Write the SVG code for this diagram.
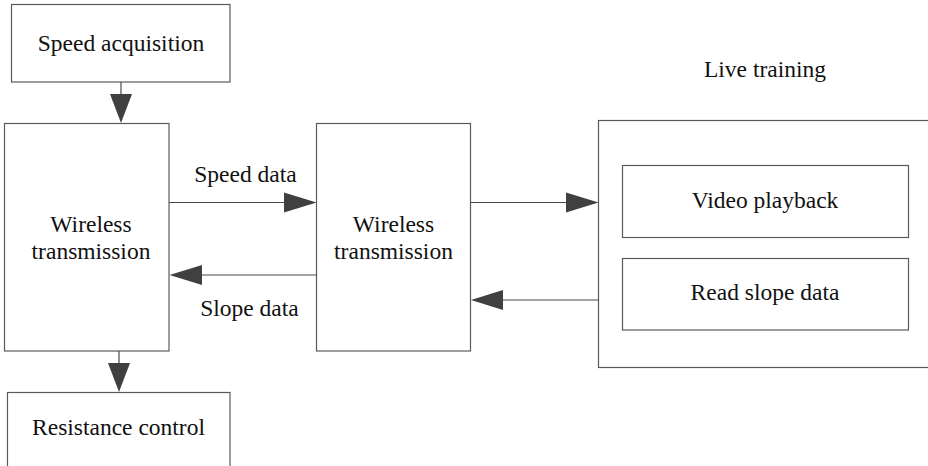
<svg xmlns="http://www.w3.org/2000/svg" width="928" height="466" viewBox="0 0 928 466">
  <style>
    .box { fill: #ffffff; stroke: #5a5a5a; stroke-width: 1.2; }
    .wire { fill: none; stroke: #4a4a4a; stroke-width: 1.2; }
    .head { fill: #404040; stroke: none; }
    text { font-family: "Liberation Serif", "Times New Roman", serif; font-size: 23.5px; fill: #111111; text-anchor: middle; }
  </style>
  <rect width="928" height="466" fill="#ffffff"/>

  <g id="speed-acquisition">
    <rect class="box" x="11.5" y="4.5" width="218.5" height="77.5"/>
    <text x="121" y="51">Speed acquisition</text>
  </g>

  <g id="wireless-left">
    <rect class="box" x="4.5" y="123.5" width="164.5" height="227.5"/>
    <text x="91" y="232">Wireless</text>
    <text x="91" y="258.5">transmission</text>
  </g>

  <g id="wireless-middle">
    <rect class="box" x="316.5" y="123.5" width="154" height="227.5"/>
    <text x="393.5" y="232">Wireless</text>
    <text x="393.5" y="258.5">transmission</text>
  </g>

  <g id="live-training">
    <text x="765" y="77">Live training</text>
    <rect class="box" x="598.5" y="120.5" width="340" height="247"/>
  </g>

  <g id="video-playback">
    <rect class="box" x="622.5" y="165.5" width="286" height="72"/>
    <text x="765" y="208">Video playback</text>
  </g>

  <g id="read-slope-data">
    <rect class="box" x="622.5" y="258.5" width="286" height="71.5"/>
    <text x="765" y="300">Read slope data</text>
  </g>

  <g id="resistance-control">
    <rect class="box" x="7.5" y="392.5" width="222.5" height="90"/>
    <text x="118.5" y="435">Resistance control</text>
  </g>

  <g id="connectors">
    <!-- acquisition down to left transmitter -->
    <line class="wire" x1="121" y1="82" x2="121" y2="95"/>
    <polygon class="head" points="110,94 132,94 121,123"/>
    <!-- left transmitter down to resistance control -->
    <line class="wire" x1="119" y1="351" x2="119" y2="364"/>
    <polygon class="head" points="108,363 130,363 119,392"/>
    <!-- speed data -->
    <line class="wire" x1="169" y1="202.5" x2="285" y2="202.5"/>
    <text x="245.5" y="182">Speed data</text>
    <polygon class="head" points="284,192.5 316.5,202.5 284,212.5"/>
    <!-- slope data -->
    <line class="wire" x1="201" y1="275" x2="316.5" y2="275"/>
    <polygon class="head" points="202,265 169.5,275 202,285"/>
    <text x="249.5" y="316">Slope data</text>
    <!-- middle transmitter to live training -->
    <line class="wire" x1="470.5" y1="202.5" x2="567" y2="202.5"/>
    <polygon class="head" points="566,192.5 598.5,202.5 566,212.5"/>
    <!-- live training back to middle transmitter -->
    <line class="wire" x1="502" y1="300" x2="598.5" y2="300"/>
    <polygon class="head" points="503,290 471,300 503,310"/>
  </g>
</svg>
